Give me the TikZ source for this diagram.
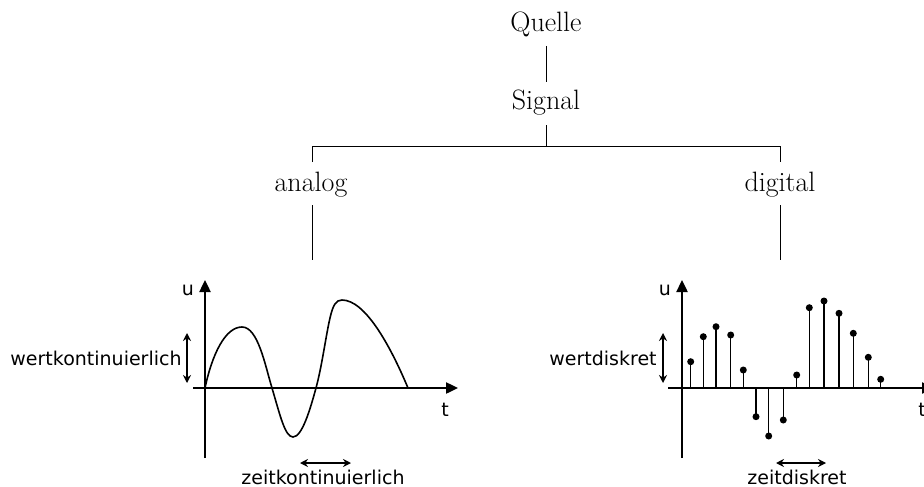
\documentclass[tikz,border=0pt]{standalone}
\usepackage{fontspec}
\newfontfamily\lblfont{DejaVu Sans}
\usetikzlibrary{arrows.meta}
\tikzset{
  treetext/.style={font=\fontsize{28}{32}\selectfont, inner sep=0pt},
  lbl/.style={font=\lblfont\fontsize{19}{22}\selectfont, inner sep=0pt},
  treeline/.style={line width=1pt},
  axis/.style={line width=2.4pt, -{Triangle[length=12pt,width=11pt]}},
  curve/.style={line width=1.6pt},
  stem/.style={line width=1.5pt},
  dblarrow/.style={line width=1.2pt, {Stealth[length=8pt,width=8pt]}-{Stealth[length=8pt,width=8pt]}},
  dot/.style={circle, fill=black, inner sep=0pt, minimum size=7pt}
}
\begin{document}
\begin{tikzpicture}[x=1pt,y=-1pt]
\useasboundingbox (0,0) rectangle (924,487);
% tree
\node[treetext] (quelle) at (546,24) {Quelle};
\node[treetext] (signal) at (546,103) {Signal};
\node[treetext] (analog) at (311,185) {analog};
\node[treetext] (digital) at (780,185) {digital};
\coordinate (j) at (546,146);
\coordinate (al) at (312,146);
\coordinate (dl) at (780,146);
\coordinate (ab) at (312,260);
\coordinate (db) at (780,260);
\coordinate (q1) at (546,46);
\coordinate (q2) at (546,82);
\coordinate (s1) at (546,125);
\draw[treeline] (q1) -- (q2);
\draw[treeline] (s1) -- (j);
\draw[treeline] (312,162) -- (al) -- (dl) -- (780,162);
\draw[treeline] (312,205) -- (ab);
\draw[treeline] (780,205) -- (db);
% analog graph
\coordinate (ay0) at (205,458);
\coordinate (ay1) at (205,280);
\coordinate (ax0) at (193,388);
\coordinate (ax1) at (458,388);
\draw[axis] (ay0) -- (ay1);
\draw[axis] (ax0) -- (ax1);
\node[lbl] (au) at (188,290) {u};
\node[lbl] (at) at (445,410) {t};
\draw[curve] (205,388) .. controls (212,355) and (225,327) .. (242,327)
  .. controls (258,327) and (265,365) .. (272,388)
  .. controls (280,415) and (285,437) .. (293,437)
  .. controls (302,437) and (310,410) .. (316,388)
  .. controls (322,366) and (326,335) .. (330,318)
  .. controls (333,305) and (336,300) .. (342,300)
  .. controls (365,300) and (390,345) .. (408,388);
\coordinate (wk1) at (187,333);
\coordinate (wk2) at (187,383);
\draw[dblarrow] (wk1) -- (wk2);
\node[lbl] (wk) at (96,358) {wertkontinuierlich};
\coordinate (zk1) at (300,463);
\coordinate (zk2) at (351,463);
\draw[dblarrow] (zk1) -- (zk2);
\node[lbl] (zk) at (323,477) {zeitkontinuierlich};
% digital graph
\coordinate (dy0) at (682,458);
\coordinate (dy1) at (682,280);
\coordinate (dx0) at (668,388);
\coordinate (dx1) at (934,388);
\draw[axis] (dy0) -- (dy1);
\draw[axis] (dx0) -- (dx1);
\node[lbl] (du) at (665,290) {u};
\node[lbl] (dt) at (922,410) {t};
\foreach \i/\x/\y in {1/690.7/361.7, 2/703.3/336.7, 3/716/326.7, 4/730.7/335, 5/743.3/370,
  6/756/416.7, 7/768.7/436, 8/783.3/420, 9/796.7/375, 10/809.3/307.7, 11/824/301,
  12/839/313.3, 13/853.3/333.3, 14/868.3/357.3, 15/880.7/379.3} {
  \coordinate (b\i) at (\x,388);
  \node[dot] (s\i) at (\x,\y) {};
  \draw[stem] (b\i) -- (s\i.center);
}
\coordinate (wd1) at (663,333);
\coordinate (wd2) at (663,383);
\draw[dblarrow] (wd1) -- (wd2);
\node[lbl] (wd) at (603,358) {wertdiskret};
\coordinate (zd1) at (776,463);
\coordinate (zd2) at (826,463);
\draw[dblarrow] (zd1) -- (zd2);
\node[lbl] (zd) at (797,477) {zeitdiskret};
\end{tikzpicture}
\end{document}
